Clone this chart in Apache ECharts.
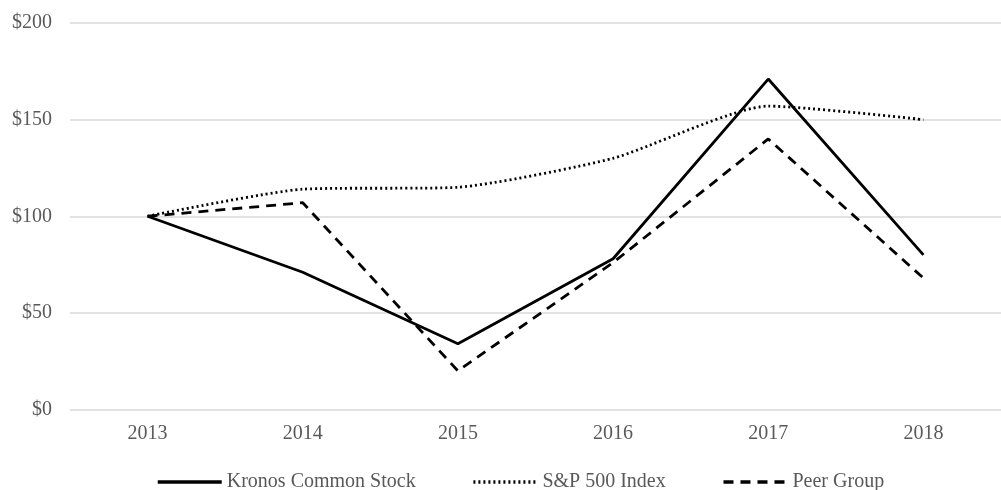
<!DOCTYPE html>
<html>
<head>
<meta charset="utf-8">
<script src="https://cdn.jsdelivr.net/npm/echarts@6/dist/echarts.min.js"></script>
<style>
  html, body { margin: 0; padding: 0; background: #fff; }
  #chart { width: 1001px; height: 490px; }
</style>
</head>
<body>
<div id="chart"></div>
<script>
var years = ['2013', '2014', '2015', '2016', '2017', '2018'];
var kronos = [100, 71, 34, 78, 171, 80];
var sp500 = [100, 114, 115, 130, 157, 150];
var peer = [100, 107, 20, 76, 140, 68];
var yTicks = [0, 50, 100, 150, 200];

var font = '"Liberation Serif", "Times New Roman", serif';
var myChart = echarts.init(document.getElementById('chart'));
var option = {
    animation: false,
    textStyle: { fontFamily: font },
    legend: {
        bottom: -7,
        left: 151,
        itemWidth: 64,
        itemHeight: 10,
        itemGap: 56,
        itemStyle: { opacity: 0 },
        lineStyle: { width: 3.5 },
        textStyle: { fontFamily: font, fontSize: 20, color: '#595959' },
        data: ['Kronos Common Stock', 'S&P 500 Index', 'Peer Group']
    },
    grid: {
        left: 70,
        right: -11,
        top: 23,
        bottom: 80.5
    },
    xAxis: {
        type: 'category',
        data: years,
        boundaryGap: true,
        axisLine: { show: false },
        axisTick: { show: false },
        axisLabel: { color: '#595959', fontSize: 20, margin: 14, fontFamily: font }
    },
    yAxis: {
        type: 'value',
        min: yTicks[0],
        max: yTicks[yTicks.length - 1],
        interval: 50,
        axisLine: { show: false },
        axisTick: { show: false },
        splitLine: { lineStyle: { color: '#d9d9d9', width: 1.5 } },
        axisLabel: {
            color: '#595959', fontSize: 20, margin: 18, fontFamily: font,
            formatter: function (v) { return '$' + v; }
        }
    },
    series: [
        {
            name: 'Kronos Common Stock',
            type: 'line',
            symbol: 'none',
            data: kronos,
            lineStyle: { color: '#000', width: 2.8 },
            itemStyle: { color: '#000' }
        },
        {
            name: 'S&P 500 Index',
            type: 'line',
            symbol: 'none',
            smooth: 0.2,
            data: sp500,
            lineStyle: { color: '#000', width: 2.8, type: [2, 3] },
            itemStyle: { color: '#000' }
        },
        {
            name: 'Peer Group',
            type: 'line',
            symbol: 'none',
            data: peer,
            lineStyle: { color: '#000', width: 2.8, type: [10, 7] },
            itemStyle: { color: '#000' }
        }
    ]
};
myChart.setOption(option);
</script>
</body>
</html>
